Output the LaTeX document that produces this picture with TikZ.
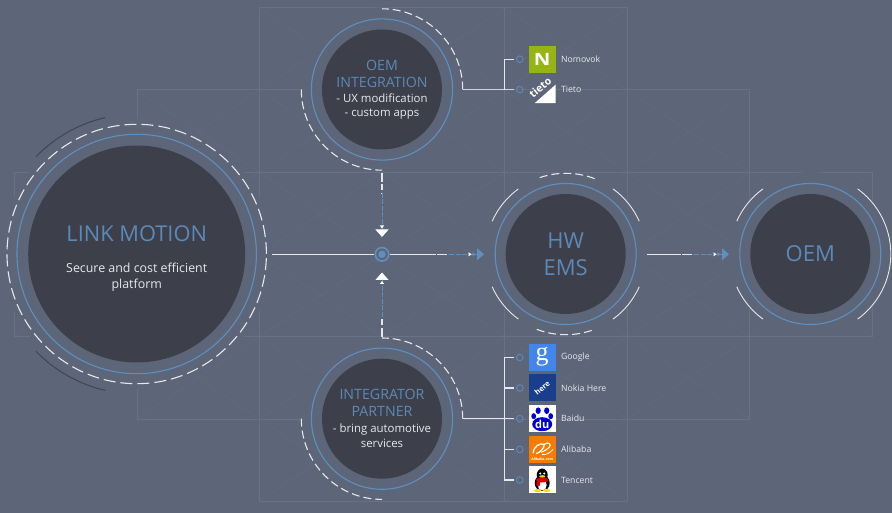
\documentclass[tikz,border=0pt]{standalone}
\usepackage{fontspec}
\setmainfont{Open Sans}
\newfontfamily\logoserif{Liberation Serif}
\usetikzlibrary{positioning,arrows.meta}
\definecolor{slate}{HTML}{5D6678}
\definecolor{coredark}{HTML}{3D404B}
\definecolor{ringblue}{HTML}{5F8FBF}
\definecolor{titleblue}{HTML}{5C89B5}
\definecolor{softwhite}{HTML}{E6E8EC}
\definecolor{gridline}{HTML}{697184}
\definecolor{gridcross}{HTML}{626B7D}
\definecolor{arcdark}{HTML}{3F4552}
\tikzset{
  maskbig/.style={circle, fill=slate, minimum size=270pt, inner sep=0pt},
  masksmall/.style={circle, fill=slate, minimum size=164pt, inner sep=0pt},
  corebig/.style={circle, fill=coredark, minimum size=217pt, inner sep=0pt},
  coresmall/.style={circle, fill=coredark, minimum size=120pt, inner sep=0pt},
  bluering/.style={draw=ringblue, line width=1.1pt},
  dashring/.style={draw=softwhite, line width=1.1pt, dash pattern=on 8pt off 4pt},
  thinarc/.style={draw=softwhite, line width=0.9pt},
  wire/.style={draw=softwhite, line width=1.1pt},
  thickwire/.style={draw=softwhite!85!slate, line width=1.5pt},
  whitedash/.style={draw=softwhite, line width=1.1pt, dash pattern=on 9pt off 2.5pt on 6pt off 2.5pt},
  bluedash/.style={draw=ringblue, line width=0.9pt, dash pattern=on 5pt off 1.5pt},
  port/.style={circle, draw=ringblue!80!slate, line width=1pt, minimum size=6.6pt, inner sep=0pt},
  logobox/.style={rectangle, minimum size=27pt, inner sep=0pt},
  brand/.style={text=softwhite, inner sep=0pt, font=\fontsize{8.7}{10}\selectfont},
  titletext/.style={text=titleblue, align=center, inner sep=0pt},
  bodytext/.style={text=softwhite, align=center, inner sep=0pt}
}
\begin{document}
\begin{tikzpicture}[x=1pt, y=1pt]
    \useasboundingbox (0,0) rectangle (892,513);
    \fill[slate] (0,0) rectangle (892,513);

    % background grid
    \foreach \cols/\rows in {{2,3,4}/{0,5}, {1,2,3,4,5}/{1,4}, {0,1,2,3,4,5,6}/{2,3}} {
        \foreach \c in \cols {
            \foreach \r in \rows {
                \draw[gridcross, line width=0.6pt] ({14+122.7*\c},{505-82.2*\r}) -- ({14+122.7*(\c+1)},{505-82.2*(\r+1)});
                \draw[gridcross, line width=0.6pt] ({14+122.7*(\c+1)},{505-82.2*\r}) -- ({14+122.7*\c},{505-82.2*(\r+1)});
            }
        }
    }
    \draw[gridline, line width=0.6pt] (259.5,505.5) rectangle (627.5,12);
    \draw[gridline, line width=0.6pt] (137,423.3) rectangle (749.7,94);
    \draw[gridline, line width=0.6pt] (14,340.5) rectangle (872.5,176.5);
    \draw[gridline, line width=0.6pt] (504.3,505.5) -- (504.3,12);

    % masks under the circles
    \node[maskbig] (linkmask) at (136.7,259) {};
    \node[masksmall] (oemintmask) at (382,423.5) {};
    \node[masksmall] (partnermask) at (382,94.3) {};
    \node[masksmall] (hwmask) at (565.7,259) {};
    \node[masksmall] (oemmask) at (810.3,259) {};

    % circles
    \node[corebig] (link) at (136.7,259) {};
    \node[coresmall] (oemint) at (382,423.5) {};
    \node[coresmall] (partner) at (382,94.3) {};
    \node[coresmall] (hw) at (565.7,259) {};
    \node[coresmall] (oem) at (810.3,259) {};

    \draw[bluering] (link.center) circle (119.7);
    \draw[bluering] (oemint.center) circle (70.6);
    \draw[bluering] (partner.center) circle (70.6);
    \draw[bluering] (hw.center) circle (70.5);
    \draw[bluering] (oem.center) circle (70.5);

    % rings around the circles
    \draw[dashring, dash pattern=on 12pt off 5pt] (link.center) circle (129.7);
    \draw[draw=arcdark, line width=1pt] (link.center) ++(103:140) arc (103:136:140);
    \draw[draw=arcdark, line width=1pt] (link.center) ++(224:140) arc (224:257:140);

    \draw[dashring] (oemint.center) ++(0:80.7) arc (0:90:80.7);
    \draw[dashring] (oemint.center) ++(180:80.7) arc (180:270:80.7);
    \draw[dashring] (partner.center) ++(0:80.7) arc (0:90:80.7);
    \draw[dashring] (partner.center) ++(180:80.7) arc (180:270:80.7);

    \draw[dashring] (hw.center) ++(69:80.7) arc (69:111:80.7);
    \draw[dashring] (hw.center) ++(249:80.7) arc (249:291:80.7);
    \draw[thinarc] (hw.center) ++(24:80.5) arc (24:54:80.5);
    \draw[thinarc] (hw.center) ++(126:80.5) arc (126:156:80.5);
    \draw[thinarc] (hw.center) ++(204:80.5) arc (204:234:80.5);
    \draw[thinarc] (hw.center) ++(306:80.5) arc (306:336:80.5);

    \draw[thinarc] (oem.center) ++(126:80.5) arc (126:156:80.5);
    \draw[thinarc] (oem.center) ++(204:80.5) arc (204:234:80.5);
    \draw[thinarc] (oem.center) ++(-54:80.5) arc (-54:54:80.5);

    % circle texts
    \node[titletext, font=\fontsize{21.8}{25}\selectfont] (linktitle) at (136.7,279.5) {LINK MOTION};
    \node[bodytext, font=\fontsize{12.4}{16}\selectfont] (linkbody) at (136.7,235.5) {Secure and cost efficient\\platform};
    \node[titletext, font=\fontsize{14.2}{17.3}\selectfont] (oemtitle) at (382,439) {OEM\\INTEGRATION};
    \node[bodytext, font=\fontsize{11.4}{14.5}\selectfont] (oembody) at (382,406.5) {- UX modification\\- custom apps};
    \node[titletext, font=\fontsize{14.2}{17}\selectfont] (partnertitle) at (382,110) {INTEGRATOR\\PARTNER};
    \node[bodytext, font=\fontsize{11.4}{14.5}\selectfont] (partnerbody) at (382,77.5) {- bring automotive\\services};
    \node[titletext, font=\fontsize{22}{27.3}\selectfont] (hwtitle) at (565.7,259) {HW\\EMS};
    \node[titletext, font=\fontsize{22}{27}\selectfont] (oemtitle2) at (810.3,259) {OEM};

    % hub
    \node[circle, draw=ringblue, line width=1.6pt, fill=slate, minimum size=13.5pt, inner sep=0pt] (hub) at (382,258.7) {};
    \fill[ringblue] (hub.center) circle (3.7);

    % connectors into the hub
    \coordinate (linkout) at (272,258.7);
    \draw[wire] (linkout) -- (hub);

    \coordinate (oemdrop) at (382,340.3);
    \coordinate (oemfade) at (382,320);
    \coordinate (oemtip) at (382,276);
    \draw[whitedash] (oemdrop) -- (oemfade);
    \draw[bluedash, -{Triangle[white, width=4pt, length=3pt, sep=1pt]Triangle[white, width=13pt, length=7.5pt]}] (oemfade) -- (oemtip);

    \coordinate (partnerrise) at (382,176.3);
    \coordinate (partnerfade) at (382,196);
    \coordinate (partnertip) at (382,240.5);
    \draw[whitedash] (partnerrise) -- (partnerfade);
    \draw[bluedash, -{Triangle[white, width=4pt, length=3pt, sep=1pt]Triangle[white, width=13pt, length=7.5pt]}] (partnerfade) -- (partnertip);

    % connectors to the right
    \coordinate (hubout) at (431.7,258.7);
    \coordinate (hwfade) at (449,258.7);
    \coordinate (hwtip) at (484,258.7);
    \draw[wire] (hub) -- (hubout);
    \draw[wire, dash pattern=on 4pt off 1.5pt on 10pt off 1.5pt] (hubout) -- (hwfade);
    \draw[bluedash, -{Triangle[white, width=4pt, length=3pt, sep=1pt]Triangle[ringblue, width=4pt, length=3pt, sep=1.5pt]Triangle[ringblue, width=12pt, length=7pt]}] (hwfade) -- (hwtip);

    \coordinate (hwout) at (646.7,258.7);
    \coordinate (oemin) at (676.5,258.7);
    \coordinate (oemfade2) at (694,258.7);
    \coordinate (oemtip2) at (729,258.7);
    \draw[wire] (hwout) -- (oemin);
    \draw[wire, dash pattern=on 4pt off 1.5pt on 10pt off 1.5pt] (oemin) -- (oemfade2);
    \draw[bluedash, -{Triangle[white, width=4pt, length=3pt, sep=1pt]Triangle[ringblue, width=4pt, length=3pt, sep=1.5pt]Triangle[ringblue, width=12pt, length=7pt]}] (oemfade2) -- (oemtip2);

    % OEM integration brands
    \node[port] (nomovokport) at (519.8,453.8) {};
    \node[port] (tietoport) at (519.8,423.4) {};
    \node[logobox, fill={rgb,255:red,150;green,180;blue,20}, right=4.9pt of nomovokport] (nomovoklogo) {};
    \node[logobox, right=4.9pt of tietoport] (tietologo) {};
    \node[brand, right=5pt of nomovoklogo] (nomovok) {Nomovok};
    \node[brand, right=5pt of tietologo] (tieto) {Tieto};
    \node[text=white, inner sep=0pt, xscale=1.2, font=\fontsize{17}{17}\selectfont\bfseries] at (nomovoklogo) {N};
    \fill[white] (tietologo.center) ++(13.5,5) -- ++(0,-18.5) -- ++(-21,0) -- cycle;
    \node[text=white, inner sep=0pt, rotate=40, font=\fontsize{10.5}{11}\selectfont\bfseries] at ([shift={(-2,2)}]tietologo.center) {tieto};

    \coordinate (oemout) at (462.7,423.4);
    \coordinate (oembranch) at (504.3,423.4);
    \draw[thickwire, shorten >=2.5pt] (oemout) -- (tietoport);
    \draw[wire, shorten >=2.5pt] (oembranch) |- (nomovokport);

    % integrator brands
    \node[port] (googleport) at (519.8,155.5) {};
    \node[port] (hereport) at (519.8,125) {};
    \node[port] (baiduport) at (519.8,94.3) {};
    \node[port] (alibabaport) at (519.8,63.6) {};
    \node[port] (tencentport) at (519.8,33) {};
    \node[logobox, fill={rgb,255:red,66;green,133;blue,235}, right=4.9pt of googleport] (googlelogo) {};
    \node[logobox, fill={rgb,255:red,24;green,62;blue,140}, right=4.9pt of hereport] (herelogo) {};
    \node[logobox, fill=white, right=4.9pt of baiduport] (baidulogo) {};
    \node[logobox, fill={rgb,255:red,245;green,124;blue,0}, right=4.9pt of alibabaport] (alibabalogo) {};
    \node[logobox, fill=white, right=4.9pt of tencentport] (tencentlogo) {};
    \node[brand, right=5pt of googlelogo] (google) {Google};
    \node[brand, right=5pt of herelogo] (here) {Nokia Here};
    \node[brand, right=5pt of baidulogo] (baidu) {Baidu};
    \node[brand, right=5pt of alibabalogo] (alibaba) {Alibaba};
    \node[brand, right=5pt of tencentlogo] (tencent) {Tencent};

    \node[text=white, inner sep=0pt, font=\logoserif\fontsize{26}{26}\selectfont] at ([yshift=1pt]googlelogo.center) {g};
    \node[text=white, inner sep=0pt, rotate=40, font=\fontsize{7.5}{8}\selectfont\bfseries] at (herelogo) {here};

    \begin{scope}[shift={(baidulogo.center)}]
        \fill[blue!80!black] (-4,8) ellipse (2.6 and 3.3);
        \fill[blue!80!black] (4.5,8) ellipse (2.6 and 3.3);
        \fill[blue!80!black] (-8.5,2.5) ellipse (2.4 and 3);
        \fill[blue!80!black] (8.5,2.5) ellipse (2.4 and 3);
        \fill[blue!80!black] (0,-5.5) ellipse (10 and 7);
    \end{scope}
    \node[text=white, inner sep=0pt, font=\fontsize{11}{11}\selectfont\bfseries] at ([yshift=-6pt]baidulogo.center) {du};

    \begin{scope}[shift={(alibabalogo.center)}]
        \draw[white, line width=1.3pt] (-9,-4) .. controls (-9,3) and (-2,7) .. (2,5) .. controls (3,2) and (-4,-5) .. (-6,-4);
        \draw[white, line width=1.1pt] (-1,-3) .. controls (4,-1) and (11,4) .. (7,6) .. controls (5,7) and (4,6) .. (2,5);
        \draw[white, line width=0.8pt] (0,-5) .. controls (4,-6) and (8,-3) .. (11,0);
    \end{scope}
    \node[text=white, inner sep=0pt, font=\fontsize{3.5}{4}\selectfont\bfseries] at ([yshift=-10pt]alibabalogo.center) {Alibaba.com};

    \begin{scope}[shift={(tencentlogo.center)}]
        \fill[black] (0,5) ellipse (5.5 and 6.5);
        \fill[black] (0,-3) ellipse (7.5 and 8);
        \fill[white] (0,-5) ellipse (4.5 and 5.5);
        \fill[red!85!black] (0,0) ellipse (6.5 and 2.4);
        \fill[red!85!black] (-4,-3.5) ellipse (2 and 3);
        \fill[white] (-2,6.5) circle (1.2);
        \fill[white] (2,6.5) circle (1.2);
        \fill[yellow!80!orange] (0,3.6) ellipse (3 and 1.2);
        \fill[yellow!80!orange] (-4.5,-10.5) ellipse (3.5 and 1.6);
        \fill[yellow!80!orange] (4.5,-10.5) ellipse (3.5 and 1.6);
    \end{scope}

    \coordinate (partnerout) at (462.7,94.3);
    \coordinate (partnerbranch) at (504.3,94.3);
    \draw[wire, shorten >=2.5pt] (partnerout) -- (baiduport);
    \draw[wire, shorten >=2.5pt] (partnerbranch) |- (googleport);
    \draw[wire, shorten >=2.5pt] (partnerbranch |- googleport) |- (hereport);
    \draw[wire, shorten >=2.5pt] (partnerbranch) |- (alibabaport);
    \draw[wire, shorten >=2.5pt] (partnerbranch) |- (tencentport);
\end{tikzpicture}
\end{document}
